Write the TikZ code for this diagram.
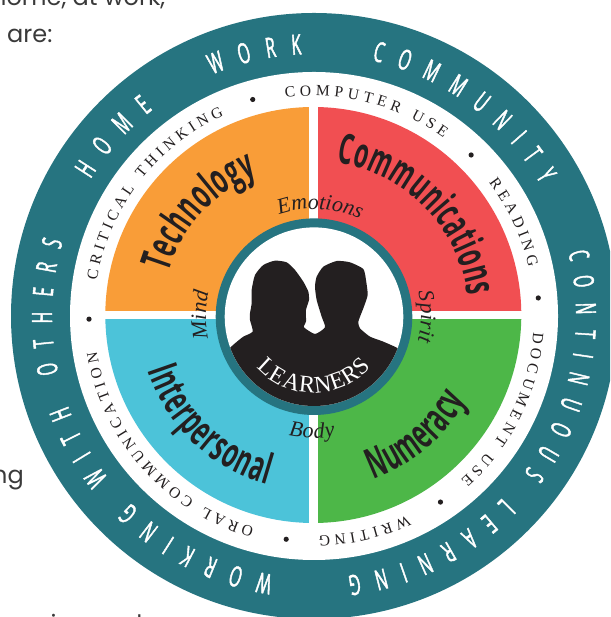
\documentclass[tikz,border=0pt]{standalone}
\usepackage{fontspec}
\usetikzlibrary{decorations.text}
\setmainfont{Liberation Serif}
\newfontfamily\condf[FakeStretch=0.55]{Open Sans}
\newfontfamily\ringf[FakeStretch=0.56,FakeBold=1.5]{Open Sans}
\newfontfamily\bodyf{Poppins}
\definecolor{teal}{HTML}{267480}
\definecolor{ink}{HTML}{231F20}
\definecolor{orangeq}{HTML}{F99D38}
\definecolor{redq}{HTML}{F14F52}
\definecolor{blueq}{HTML}{4CC3D9}
\definecolor{greenq}{HTML}{4DB748}
\definecolor{gtext}{HTML}{3A3A3A}
\tikzset{pagetext/.style={inner sep=0pt,font=\bodyf\fontsize{24}{24}\selectfont,text=gtext}}
\newcommand{\cw}[5]{% r, from, to, format, text
  \path[postaction={decorate,decoration={text along path,text align={fit to path},text={|#4|#5}}}]
    (#2:#1pt) arc[start angle=#2,end angle=#3,radius=#1pt];}
\begin{document}
\begin{tikzpicture}[x=1pt,y=1pt]
\useasboundingbox (0,0) rectangle (610,617);
\clip (0,0) rectangle (610,617);
\fill[white] (0,0) rectangle (610,617);
% fragments of page text
\node[pagetext,anchor=base west] (p1) at (-9,611) {home, at work,};
\node[pagetext,anchor=base west] (p2) at (7,574) {are:};
\node[pagetext,anchor=base east] (p3) at (24,133) {ng};
\node[pagetext,anchor=base west] (p4) at (-11,-16) {learning and};
\begin{scope}[shift={(314,301)}]
\fill[teal] (0,0) circle (303);
\fill[white] (0,0) circle (244);
\begin{scope}[shift={(-0.7,1)}]
\fill[redq] (0,0) -- (0:208) arc[start angle=0,end angle=90,radius=208] -- cycle;
\fill[orangeq] (0,0) -- (90:208) arc[start angle=90,end angle=180,radius=208] -- cycle;
\fill[blueq] (0,0) -- (180:208) arc[start angle=180,end angle=270,radius=208] -- cycle;
\fill[greenq] (0,0) -- (270:208) arc[start angle=270,end angle=360,radius=208] -- cycle;
\fill[white] (-4.4,-209) rectangle (4.4,209);
\fill[white] (-209,-4.2) rectangle (209,4.2);
\end{scope}
\fill[teal] (0,-0.7) circle (98.3);
\fill[white] (0,-0.7) circle (89.3);
\begin{scope}
\clip (0,-0.7) circle (89.3);
\begin{scope}[shift={(-114,116)},x=0.3333pt,y=-0.3333pt]
\fill[ink] plot[smooth,tension=0.35] coordinates {(60,470) (105,430) (130,410) (158,395) (150,360) (150,340) (155,310) (155,270) (165,225) (190,195) (225,182) (260,187) (285,210) (310,245) (325,275) (327,300) (318,330) (318,365) (312,382) (345,402) (375,382) (365,350) (350,300) (345,260) (350,230) (370,200) (410,183) (450,187) (490,207) (498,240) (503,285) (490,325) (475,365) (480,385) (510,410) (550,425) (600,448) (640,480)} -- (640,700) -- (60,700) -- cycle;
\end{scope}
\end{scope}
% outer ring
\def\rf{\ringf\fontsize{28}{28}\selectfont\color{white}}
\cw{262}{148.5}{128}{\rf}{HOME}
\cw{262}{112.8}{92.7}{\rf}{WORK}
\cw{262}{77.2}{30.3}{\rf}{COMMUNITY}
\cw{262}{14}{-82.6}{\rf}{CONTINUOUS LEARNING}
\cw{262}{-99}{-196.5}{\rf}{WORKING WITH OTHERS}
% inner ring
\def\sf{\fontsize{15.5}{15.5}\selectfont\color{ink}}
\cw{220}{97.5}{53.9}{\sf}{COMPUTER USE}
\cw{220}{37.4}{12.8}{\sf}{READING}
\cw{220}{-4.2}{-48.2}{\sf}{DOCUMENT USE}
\cw{220}{-64.8}{-88.8}{\sf}{WRITING}
\cw{220}{-105.8}{-170.6}{\sf}{ORAL COMMUNICATION}
\cw{220}{170.6}{114.2}{\sf}{CRITICAL THINKING}
\foreach \a in {45.7,4.6,-55.8,-97.1,180.8,105.8}
  \fill[ink] (\a:225) circle (2.6);
% quadrant titles
\def\qf{\condf\bfseries\fontsize{42}{42}\selectfont\color{ink}}
\cw{152}{163.5}{112}{\qf}{Technology}
\cw{155}{81.5}{7.5}{\qf}{Communications}
\path[postaction={decorate,decoration={text along path,text align={fit to path},text={|\qf|Numeracy}}}]
  (-70:174pt) arc[start angle=-70,end angle=-29,radius=174pt];
\path[postaction={decorate,decoration={text along path,text align={fit to path},text={|\qf|Interpersonal}}}]
  (198:175pt) arc[start angle=198,end angle=254.5,radius=175pt];
% inner labels
\def\itf{\itshape\fontsize{22}{22}\selectfont\color{ink}}
\cw{107}{109}{66}{\itf}{Emotions}
\cw{107}{13}{-14}{\itf}{Spirit}
\cw{108}{192}{167}{\itf}{Mind}
\path[postaction={decorate,decoration={text along path,text align={fit to path},text={|\itf|Body}}}]
  (258:122pt) arc[start angle=258,end angle=280,radius=122pt];
\path[postaction={decorate,decoration={text along path,text align={fit to path},text={|\fontsize{24}{24}\selectfont\color{white}|LEARNERS}}}]
  (222:77pt) arc[start angle=222,end angle=318,radius=77pt];
\end{scope}
\end{tikzpicture}
\end{document}
